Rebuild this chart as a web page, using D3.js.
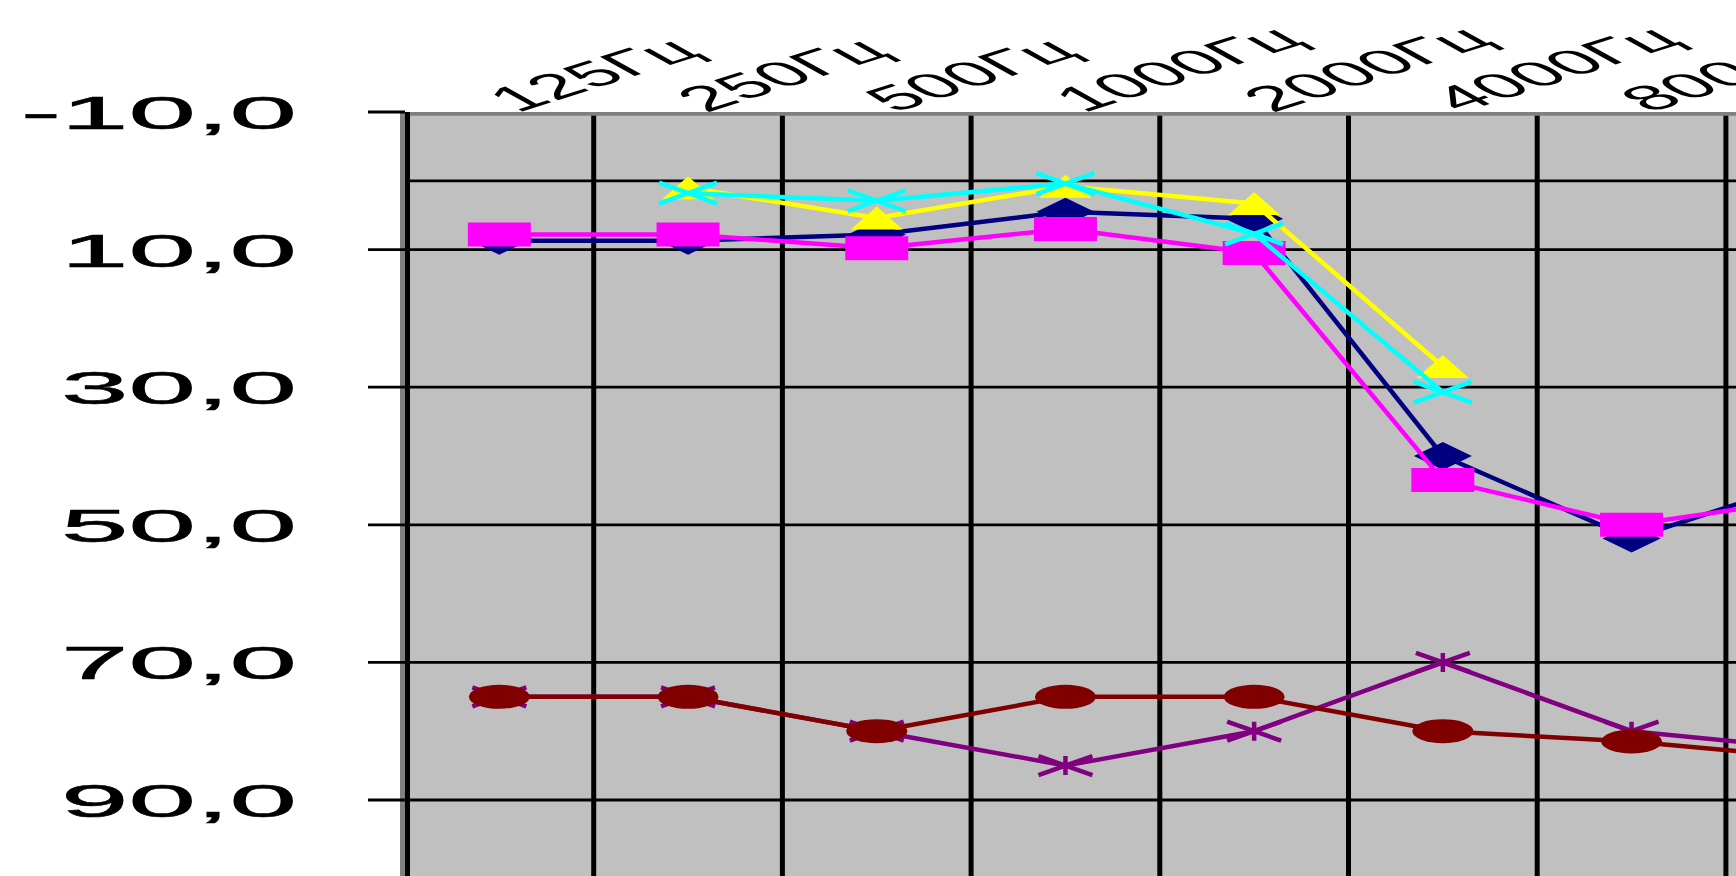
<!DOCTYPE html>
<html><head><meta charset="utf-8">
<script src="https://cdn.jsdelivr.net/npm/d3@7"></script>
<style>html,body{margin:0;padding:0;background:#fff;overflow:hidden}svg{display:block}</style>
</head><body>
<svg id="chart" width="1736" height="876"></svg>
<script>
// ---- data ----
const categories = ["125Гц","250Гц","500Гц","1000Гц","2000Гц","4000Гц","8000Гц","10000Гц"];
const yTickValues = [-10, 10, 30, 50, 70, 90];
const refLineValues = [0];
const seriesNavy    = [8.7, 8.7, 7.8, 4.5, 5.5, 40, 52, 43];
const seriesMagenta = [7.8, 7.8, 9.8, 7.0, 10.5, 43.5, 50, 46];
const seriesYellow  = [null, 1.0, 5.4, 0.8, 3.3, 27, null, null];
const seriesCyan    = [null, 1.8, 2.9, 0.4, 7.7, 30.7, null, null];
const seriesPurple  = [75, 75, 80, 85, 80, 70, 80, 82.7];
const seriesMaroon  = [75, 75, 80, 75, 75, 80, 81.5, 84];

const series = [
  {values: seriesNavy,    color: "#000080", marker: "diamond"},
  {values: seriesMagenta, color: "#FF00FF", marker: "square"},
  {values: seriesYellow,  color: "#FFFF00", marker: "triangle"},
  {values: seriesCyan,    color: "#00FFFF", marker: "x"},
  {values: seriesPurple,  color: "#800080", marker: "star"},
  {values: seriesMaroon,  color: "#800000", marker: "circle"}
];

// ---- layout ----
const plotLeft = 405, plotTop = 112, band = 188.7;
const svg = d3.select("#chart");

const x = d3.scaleBand().domain(categories)
  .range([plotLeft, plotLeft + band * categories.length]).paddingInner(0).paddingOuter(0);
const y = d3.scaleLinear().domain([-10, 90]).range([plotTop, 800]);
const plotRight = x.range()[1];
const plotBottom = y(120);
const cx = c => x(c) + x.bandwidth() / 2;

// plot background
svg.append("rect").attr("x", plotLeft).attr("y", plotTop)
  .attr("width", plotRight - plotLeft).attr("height", plotBottom - plotTop)
  .attr("fill", "#C0C0C0");

// horizontal grid lines
const hLines = yTickValues.filter(v => v > -10).concat(refLineValues, [110]);
svg.append("g").selectAll("line").data(hLines).join("line")
  .attr("x1", plotLeft).attr("x2", plotRight)
  .attr("y1", d => y(d)).attr("y2", d => y(d))
  .attr("stroke", "#000").attr("stroke-width", 2.8);

// vertical grid lines at category boundaries
svg.append("g").selectAll("line").data(categories.slice(1)).join("line")
  .attr("x1", d => x(d)).attr("x2", d => x(d))
  .attr("y1", plotTop).attr("y2", plotBottom)
  .attr("stroke", "#000").attr("stroke-width", 5);

// plot border (gray) top and left
svg.append("line").attr("x1", plotLeft - 5).attr("x2", plotRight)
  .attr("y1", plotTop + 1.8).attr("y2", plotTop + 1.8)
  .attr("stroke", "#808080").attr("stroke-width", 3.8);
svg.append("line").attr("x1", plotLeft - 2.5).attr("x2", plotLeft - 2.5)
  .attr("y1", plotTop).attr("y2", plotBottom)
  .attr("stroke", "#808080").attr("stroke-width", 5);
// value axis line
svg.append("line").attr("x1", plotLeft + 2.5).attr("x2", plotLeft + 2.5)
  .attr("y1", plotTop).attr("y2", plotBottom)
  .attr("stroke", "#000").attr("stroke-width", 5);

// y ticks and labels
const fmt = v => v.toFixed(1).replace(".", ",");
const yAxis = svg.append("g");
yAxis.selectAll("line").data(yTickValues).join("line")
  .attr("x1", 368).attr("x2", plotLeft)
  .attr("y1", d => y(d)).attr("y2", d => y(d))
  .attr("stroke", "#000").attr("stroke-width", 2.8);
yAxis.selectAll("text").data(yTickValues).join("text")
  .attr("transform", d => `translate(297,${y(d)}) scale(2.58,1)`)
  .attr("text-anchor", "end").attr("dy", "0.36em")
  .attr("font-family", "Liberation Sans, Arial, sans-serif")
  .attr("font-size", 47).attr("fill", "#000")
  .attr("stroke", "#000").attr("stroke-width", 0.6)
  .text(fmt);

// x labels (top, slanted)
svg.append("g").selectAll("text").data(categories).join("text")
  .attr("transform", d => `translate(${cx(d) + 18},${plotTop + 1}) scale(2.4,1) rotate(-37)`)
  .attr("text-anchor", "start")
  .attr("font-family", "Liberation Sans, Arial, sans-serif")
  .attr("font-size", 35).attr("fill", "#000")
  .text(d => d);

// marker shapes (w x h)
function markerPath(type, w, h) {
  const a = w / 2, b = h / 2;
  switch (type) {
    case "diamond": return `M0,${-b}L${a},0L0,${b}L${-a},0Z`;
    case "square": return `M${-a},${-b}H${a}V${b}H${-a}Z`;
    case "triangle": return `M0,${-b}L${a},${b}H${-a}Z`;
    case "x": return `M${-a},${-b}L${a},${b}M${-a},${b}L${a},${-b}`;
    case "star": return `M${-a},${-b}L${a},${b}M${-a},${b}L${a},${-b}M0,${-b}V${b}`;
  }
  return "";
}
const markerSize = {
  diamond: [58, 28], square: [63, 24], triangle: [52, 23], x: [58, 21], star: [54, 19], circle: [61, 24]
};

const line = d3.line()
  .defined(d => d.v != null)
  .x(d => cx(d.c)).y(d => y(d.v));

series.forEach(s => {
  const pts = s.values.map((v, i) => ({c: categories[i], v}));
  const g = svg.append("g");
  g.append("path").datum(pts).attr("d", line)
    .attr("fill", "none").attr("stroke", s.color).attr("stroke-width", 4.5)
    .attr("stroke-linejoin", "round");
  const [w, h] = markerSize[s.marker];
  const valid = pts.filter(d => d.v != null);
  if (s.marker === "circle") {
    g.selectAll("ellipse").data(valid).join("ellipse")
      .attr("cx", d => cx(d.c)).attr("cy", d => y(d.v))
      .attr("rx", w / 2).attr("ry", h / 2).attr("fill", s.color);
  } else {
    const stroked = s.marker === "x" || s.marker === "star";
    g.selectAll("path.m").data(valid).join("path").attr("class", "m")
      .attr("transform", d => `translate(${cx(d.c)},${y(d.v)})`)
      .attr("d", markerPath(s.marker, w, h))
      .attr("fill", stroked ? "none" : s.color)
      .attr("stroke", stroked ? s.color : "none")
      .attr("stroke-width", stroked ? 4.5 : 0);
  }
});
</script>
</body></html>
